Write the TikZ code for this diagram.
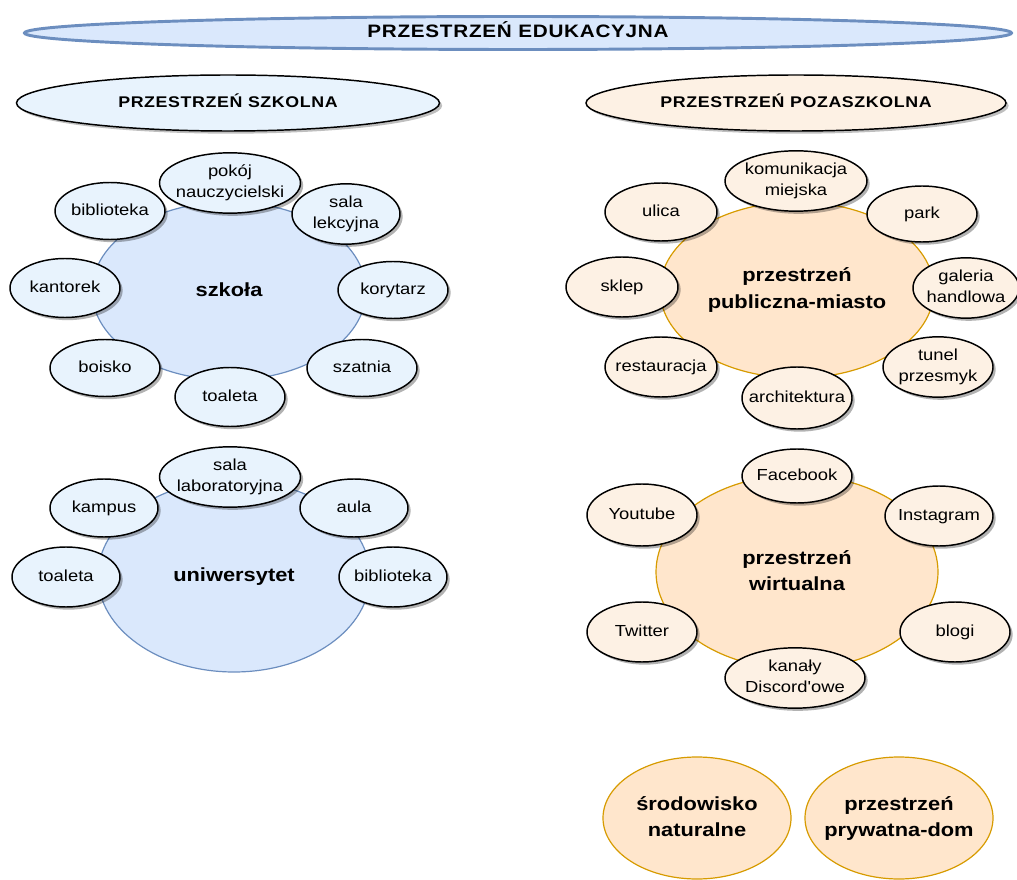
\documentclass[tikz,border=0pt]{standalone}
\usepackage{fontspec}
\setmainfont{Liberation Sans}[FakeStretch=1.15, Ligatures=TeXOff]
\usetikzlibrary{shapes.geometric,shadows}

\definecolor{blueFill}{HTML}{DAE8FC}
\definecolor{blueLine}{HTML}{6C8EBF}
\definecolor{blueLight}{HTML}{E8F3FD}
\definecolor{orangeFill}{HTML}{FFE6CC}
\definecolor{orangeLine}{HTML}{D79B00}
\definecolor{orangeLight}{HTML}{FDF1E4}

% centred label whose width does not enlarge the ellipse around it
\newcommand{\lbl}[1]{\raisebox{-1.5pt}{\makebox[0pt]{\begin{tabular}{@{}c@{}}#1\end{tabular}}}}

\begin{document}
\begin{tikzpicture}[x=0.75pt,y=-0.75pt,
  sz/.style 2 args={minimum width=#1*0.75pt, minimum height=#2*0.75pt},
  oval/.style={ellipse, inner sep=0pt},
  title/.style={oval, fill=blueFill, draw=blueLine, line width=2.2pt,
    font=\fontsize{13.5}{16}\bfseries\selectfont\addfontfeature{LetterSpace=4}},
  heading/.style={oval, draw=black, line width=1.1pt,
    drop shadow={shadow xshift=2pt, shadow yshift=-2pt, opacity=0.25, fill=black},
    font=\fontsize{11.6}{14}\bfseries\selectfont\addfontfeature{LetterSpace=4}},
  hub/.style={oval, line width=0.9pt, font=\fontsize{14.25}{20}\bfseries\selectfont},
  hubblue/.style={hub, fill=blueFill, draw=blueLine},
  huborange/.style={hub, fill=orangeFill, draw=orangeLine},
  item/.style={oval, draw=black, line width=1.1pt,
    drop shadow={shadow xshift=2pt, shadow yshift=-2pt, opacity=0.3, fill=black},
    font=\fontsize{12}{16}\selectfont},
  itemblue/.style={item, fill=blueLight},
  itemorange/.style={item, fill=orangeLight},
]
\useasboundingbox (0,0) rectangle (1017,880);

% title and the two main headings
\node[title, sz={987}{33}] (edu) at (518,33) {\lbl{PRZESTRZEŃ EDUKACYJNA}};
\node[heading, fill=blueLight, sz={423}{56}] (szk) at (228,103) {\lbl{PRZESTRZEŃ SZKOLNA}};
\node[heading, fill=orangeLight, sz={420}{56}] (poza) at (796,103) {\lbl{PRZESTRZEŃ POZASZKOLNA}};

% school
\node[hubblue, sz={274}{178}] (szkola) at (229,291) {\lbl{szkoła}};
\node[itemblue, sz={141}{54}] (pokoj) at (230,183) {\lbl{pokój\\nauczycielski}};
\node[itemblue, sz={110}{57}] (bib1) at (110,211) {\lbl{biblioteka}};
\node[itemblue, sz={108}{56}] (sala) at (346,214) {\lbl{sala\\lekcyjna}};
\node[itemblue, sz={110}{59}] (kant) at (65,288) {\lbl{kantorek}};
\node[itemblue, sz={110}{57}] (kory) at (393,290) {\lbl{korytarz}};
\node[itemblue, sz={110}{57}] (bois) at (105,368) {\lbl{boisko}};
\node[itemblue, sz={110}{57}] (szat) at (362,368) {\lbl{szatnia}};
\node[itemblue, sz={110}{59}] (toal1) at (230,397) {\lbl{toaleta}};

% university
\node[hubblue, sz={272}{192}] (uni) at (234,576) {\lbl{uniwersytet}};
\node[itemblue, sz={141}{60}] (lab) at (230,477) {\lbl{sala\\laboratoryjna}};
\node[itemblue, sz={108}{58}] (kamp) at (104,508) {\lbl{kampus}};
\node[itemblue, sz={108}{58}] (aula) at (354,508) {\lbl{aula}};
\node[itemblue, sz={108}{60}] (toal2) at (66,577) {\lbl{toaleta}};
\node[itemblue, sz={108}{60}] (bib2) at (393,577) {\lbl{biblioteka}};

% public space - city
\node[huborange, sz={274}{176}] (miasto) at (797,290) {\lbl{przestrzeń\\publiczna-miasto}};
\node[itemorange, sz={142}{54}] (kom) at (796,181) {\lbl{komunikacja\\miejska}};
\node[itemorange, sz={112}{58}] (ulica) at (661,212) {\lbl{ulica}};
\node[itemorange, sz={110}{56}] (park) at (922,214) {\lbl{park}};
\node[itemorange, sz={112}{60}] (sklep) at (622,287) {\lbl{sklep}};
\node[itemorange, sz={106}{60}] (gal) at (966,288) {\lbl{galeria\\handlowa}};
\node[itemorange, sz={112}{60}] (rest) at (661,367) {\lbl{restauracja}};
\node[itemorange, sz={110}{60}] (tunel) at (938,367) {\lbl{tunel\\przesmyk}};
\node[itemorange, sz={110}{62}] (arch) at (797,398) {\lbl{architektura}};

% virtual space
\node[huborange, sz={282}{194}] (wirt) at (797,572) {\lbl{przestrzeń\\wirtualna}};
\node[itemorange, sz={110}{54}] (fb) at (797,476) {\lbl{Facebook}};
\node[itemorange, sz={110}{62}] (yt) at (642,515) {\lbl{Youtube}};
\node[itemorange, sz={108}{60}] (ig) at (939,516) {\lbl{Instagram}};
\node[itemorange, sz={110}{60}] (tw) at (642,632) {\lbl{Twitter}};
\node[itemorange, sz={110}{60}] (blogi) at (955,632) {\lbl{blogi}};
\node[itemorange, sz={140}{58}] (disc) at (795,678) {\lbl{kanały\\Discord'owe}};

% standalone spaces
\node[huborange, sz={188}{122}] (nat) at (697,818) {\lbl{środowisko\\naturalne}};
\node[huborange, sz={188}{122}] (dom) at (899,818) {\lbl{przestrzeń\\prywatna-dom}};
\end{tikzpicture}
\end{document}
